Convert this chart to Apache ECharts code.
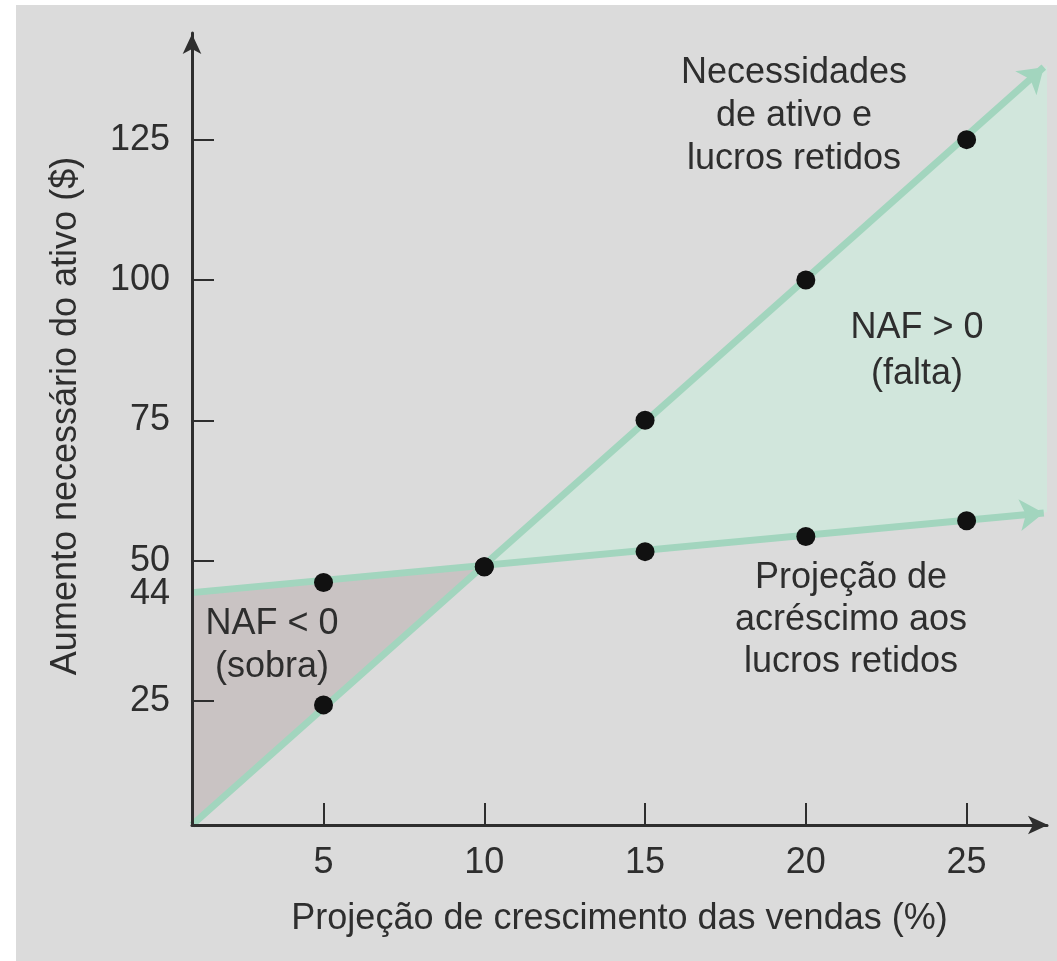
<!DOCTYPE html>
<html>
<head>
<meta charset="utf-8">
<script src="https://cdn.jsdelivr.net/npm/echarts@6/dist/echarts.min.js"></script>
<style>
  html, body { margin: 0; padding: 0; background: #ffffff; }
  #chart { width: 1057px; height: 961px; }
</style>
</head>
<body>
<div id="chart"></div>
<script>
// Sales growth (%) at which the marked points sit
const growth = [5, 10, 15, 20, 25];
// Required increase in assets ($) at each growth rate
const assetNeeds = [24.3, 48.9, 75, 100, 125];
// Projected addition to retained earnings ($) at each growth rate
const retainedAdd = [46.1, 48.9, 51.6, 54.3, 57.1];

// Axis ticks and labels
const xTickValues = [5, 10, 15, 20, 25];
const yTickValues = [25, 50, 75, 100, 125];
const yLabelValues = [25, 44, 50, 75, 100, 125];
const xRange = [0.91, 27.5];
const yRange = [2.9, 144];

// Full extent of the two trend lines (start, arrow end)
const assetLine = [[0.91, 2.9], [27.4, 137.9]];
const retainedLine = [[0.91, 44.3], [27.4, 58.5]];
// Where the two lines cross
const crossing = [10.0, 48.9];
// Right edge of the shaded deficit area
const areaRight = [[27.5, 138.2], [27.5, 58.6]];

const GREEN_LINE = '#a2d5be';
const GREEN_FILL = '#d1e6dc';
const GRAY_FILL = '#c9c3c3';
const INK = '#2e2e2e';
const FONT = '"Liberation Sans", Arial, sans-serif';
const FS = 36;

function polygonSeries(points, color) {
  return {
    type: 'custom',
    coordinateSystem: 'cartesian2d',
    silent: true,
    z: 1,
    data: [0],
    renderItem: function (params, api) {
      return {
        type: 'polygon',
        shape: { points: points.map(function (p) { return api.coord(p); }) },
        style: { fill: color }
      };
    }
  };
}

function note(x, y, text, lineHeight) {
  return {
    type: 'text', z: 20, silent: true,
    style: {
      x: x, y: y, text: text,
      align: 'center', verticalAlign: 'middle', lineHeight: lineHeight,
      font: FS + 'px ' + FONT, fill: INK
    }
  };
}

const chart = echarts.init(document.getElementById('chart'), null, { renderer: 'canvas' });

chart.setOption({
  animation: false,
  backgroundColor: 'transparent',
  graphic: [
    {
      type: 'rect', z: -10, silent: true,
      shape: { x: 16, y: 5, width: 1041, height: 956 },
      style: { fill: '#dbdbdb' }
    },
    note(794, 116, 'Necessidades\nde ativo e\nlucros retidos', 43),
    note(917, 351, 'NAF > 0\n(falta)', 46),
    note(851, 620, 'Projeção de\nacréscimo aos\nlucros retidos', 42),
    note(272, 646, 'NAF < 0\n(sobra)', 43)
  ],
  grid: { left: 192, right: 10, top: 33, bottom: 136, containLabel: false },
  xAxis: {
    type: 'value',
    z: 6,
    min: xRange[0], max: xRange[1],
    name: 'Projeção de crescimento das vendas (%)',
    nameLocation: 'middle',
    nameGap: 76,
    nameTextStyle: { fontFamily: FONT, fontSize: FS, color: INK },
    splitLine: { show: false },
    axisLine: {
      onZero: false,
      lineStyle: { color: INK, width: 3 },
      symbol: ['none', 'arrow'],
      symbolSize: [14, 20],
      symbolOffset: [0, 1]
    },
    axisTick: {
      inside: true, length: 22,
      customValues: xTickValues,
      lineStyle: { color: INK, width: 2 }
    },
    axisLabel: {
      customValues: xTickValues,
      margin: 20,
      fontFamily: FONT, fontSize: FS, color: INK
    }
  },
  yAxis: {
    type: 'value',
    z: 6,
    min: yRange[0], max: yRange[1],
    name: 'Aumento necessário do ativo ($)',
    nameLocation: 'middle',
    nameGap: 108,
    nameRotate: 90,
    nameTextStyle: { fontFamily: FONT, fontSize: FS, color: INK, padding: [0, 0, 0, 26] },
    splitLine: { show: false },
    axisLine: {
      show: true,
      onZero: false,
      lineStyle: { color: INK, width: 3 },
      symbol: ['none', 'arrow'],
      symbolSize: [14, 20],
      symbolOffset: [0, -1]
    },
    axisTick: {
      show: true,
      inside: true, length: 22,
      customValues: yTickValues,
      lineStyle: { color: INK, width: 2 }
    },
    axisLabel: {
      customValues: yLabelValues,
      margin: 22,
      fontFamily: FONT, fontSize: FS, color: INK
    }
  },
  series: [
    // NAF < 0 (surplus) region
    polygonSeries([assetLine[0], retainedLine[0], crossing], GRAY_FILL),
    // NAF > 0 (shortfall) region
    polygonSeries([crossing, areaRight[1], areaRight[0]], GREEN_FILL),
    {
      type: 'lines',
      coordinateSystem: 'cartesian2d',
      silent: true,
      z: 3,
      symbol: ['none', 'arrow'],
      symbolSize: 24,
      lineStyle: { color: GREEN_LINE, width: 7, opacity: 1, curveness: 0 },
      data: [
        { coords: assetLine },
        { coords: retainedLine }
      ]
    },
    {
      name: 'Necessidades de ativo',
      type: 'scatter',
      z: 10,
      symbol: 'circle',
      symbolSize: 19,
      itemStyle: { color: '#111111', opacity: 1 },
      data: growth.map(function (g, i) { return [g, assetNeeds[i]]; })
    },
    {
      name: 'Acréscimo aos lucros retidos',
      type: 'scatter',
      z: 10,
      symbol: 'circle',
      symbolSize: 19,
      itemStyle: { color: '#111111', opacity: 1 },
      data: growth.map(function (g, i) { return [g, retainedAdd[i]]; })
    }
  ]
});
</script>
</body>
</html>
